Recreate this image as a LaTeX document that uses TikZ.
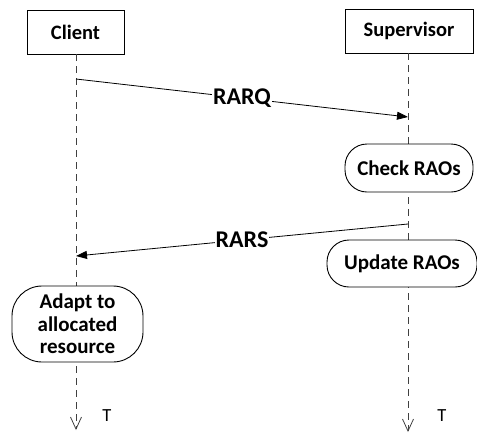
\documentclass[tikz,border=0pt]{standalone}
\usepackage{fontspec}
\setmainfont{Carlito}
\usetikzlibrary{arrows.meta}
\begin{document}
\begin{tikzpicture}[x=1pt,y=-1pt,
  actor/.style={draw, line width=0.9pt, fill=white, minimum width=#1, minimum height=44pt, inner sep=0pt, font=\fontsize{20.5}{22}\selectfont\bfseries},
  act/.style={draw, line width=0.9pt, fill=white, inner sep=0pt, font=\fontsize{21}{22.5}\selectfont\bfseries, align=center},
  life/.style={line width=1pt, draw=black!75, dash pattern=on 7pt off 5pt},
  msg/.style={line width=0.8pt, -{Triangle[length=11pt,width=8pt]}},
  lbl/.style={fill=white, inner sep=1pt, font=\fontsize{24}{26}\selectfont\bfseries},
  tlbl/.style={font=\fontsize{18.5}{20}\selectfont}]
\useasboundingbox (0,0) rectangle (477,432);
% lifeline ends
\coordinate (ce) at (76,430);
\coordinate (se) at (408,432);
\coordinate (c1) at (76,79);
\coordinate (s1) at (408,117);
\coordinate (s2) at (408,224);
\coordinate (c2) at (76,256);
\node[actor=97pt] (client) at (75.5,32) {Client};
\node[actor=128pt] (sup) at (409,31) {Supervisor};
% lifelines
\draw[life, -{Straight Barb[length=12pt,width=11pt,line width=0.8pt]}] (client.south -| ce) -- (ce);
\draw[life, -{Straight Barb[length=12pt,width=11pt,line width=0.8pt]}] (sup.south -| se) -- (se);
% activities
\node[act, minimum width=128pt, minimum height=48pt, rounded corners=22pt] (check) at (409,168) {Check RAOs};
\node[act, minimum width=150pt, minimum height=47pt, rounded corners=22pt] (update) at (402,263.5) {Update RAOs};
\node[act, minimum width=131pt, minimum height=76pt, rounded corners=30pt] (adapt) at (77.5,324) {Adapt to\\allocated\\resource};
% messages
\draw[msg] (c1) -- node[lbl, pos=0.5] (rarq) {RARQ} (s1);
\draw[msg] (s2) -- node[lbl, pos=0.5] (rars) {RARS} (c2);
% time labels
\node[tlbl] (t1) at (107,416) {T};
\node[tlbl] (t2) at (442,416) {T};
\end{tikzpicture}
\end{document}
